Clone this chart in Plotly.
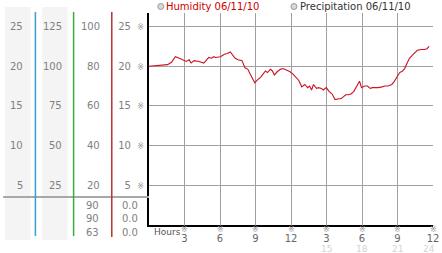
import plotly.graph_objects as go

# ---------------- data ----------------
hours = [0.00, 1.57, 1.90, 2.23, 2.57, 2.81, 3.14, 3.39, 3.56, 3.81, 4.22, 4.63, 4.80, 5.05,
         5.30, 5.46, 5.63, 6.04, 6.37, 6.62, 6.87, 7.12, 7.28, 7.53, 7.86, 8.11, 8.36, 8.52,
         8.69, 8.94, 9.19, 9.43, 9.68, 9.85, 10.01, 10.26, 10.43, 10.59, 10.84, 11.09, 11.34,
         11.67, 11.92, 12.17, 12.50, 12.66, 12.91, 13.16, 13.41, 13.57, 13.74, 13.90, 14.15,
         14.32, 14.57, 14.73, 14.98, 15.23, 15.48, 15.72, 16.06, 16.22, 16.39, 16.63, 16.88,
         17.05, 17.30, 17.54, 17.79, 17.96, 18.21, 18.46, 18.70, 18.87, 19.12, 19.37, 19.70,
         19.94, 20.19, 20.52, 20.69, 20.94, 21.19, 21.43, 21.60, 21.85, 22.01, 22.26, 22.43,
         22.68, 23.01, 23.26, 23.50, 23.67]
humidity = [20.0, 20.2, 20.5, 21.2, 21.0, 20.8, 20.6, 20.8, 20.4, 20.7, 20.6, 20.4, 20.7, 21.1,
            21.0, 21.2, 21.1, 21.2, 21.5, 21.6, 21.8, 21.3, 21.0, 20.8, 20.7, 19.8, 19.6, 19.1,
            18.6, 17.9, 18.3, 18.6, 19.1, 19.4, 19.2, 19.6, 19.4, 18.9, 19.3, 19.6, 19.7,
            19.5, 19.3, 19.0, 18.4, 18.2, 17.4, 17.7, 17.3, 17.5, 17.0, 17.7, 17.2,
            17.3, 17.2, 17.0, 17.3, 16.8, 16.5, 15.8, 15.9, 15.9, 16.1, 16.4, 16.4,
            16.5, 16.8, 17.5, 18.1, 17.3, 17.5, 17.5, 17.2, 17.3, 17.3, 17.3, 17.4,
            17.5, 17.5, 17.7, 18.0, 18.6, 19.2, 19.4, 19.7, 20.5, 21.0, 21.4, 21.6,
            22.0, 22.1, 22.1, 22.2, 22.5]

y_ticks = [25, 20, 15, 10, 5]
col1_labels = ["25", "20", "15", "10", "5"]
col2_labels = ["125", "100", "75", "50", "25"]
col3_labels = ["100", "80", "60", "40", "20"]
col4_labels = ["25", "20", "15", "10", "5"]
col3_rows = ["90", "90", "63"]
col4_rows = ["0.0", "0.0", "0.0"]

x_ticks = [3, 6, 9, 12, 15, 18, 21, 24]
x_labels = ["3", "6", "9", "12", "3", "6", "9", "12"]
x_ticks2 = [15, 18, 21, 24]
x_labels2 = ["15", "18", "21", "24"]

series_names = ["Humidity 06/11/10", "Precipitation 06/11/10"]

# ---------------- layout helpers ----------------
W, H = 442, 253
PX_L, PX_R, PX_T, PX_B = 149, 439, 13, 225
X_RANGE = [0, 24]
Y_RANGE = [0, 26.7]


def fx(px):
    return (px - PX_L) / (PX_R - PX_L)


def fy(py):
    return (PX_B - py) / (PX_B - PX_T)


FONT = "DejaVu Sans, Noto Sans CJK JP"
GREY = "#808080"
GRID = "#a0a0a0"
MARK = "<span style='font-size:8px;color:#9a9a9a'>※</span>"

fig = go.Figure()

fig.add_trace(go.Scatter(x=hours, y=humidity, mode="lines",
                         line=dict(color="#cc1122", width=1.1),
                         hoverinfo="skip", showlegend=False))

shapes = []
# grey column backgrounds
for x0, x1 in [(2, 28), (40, 66)]:
    shapes.append(dict(type="rect", xref="paper", yref="paper", x0=fx(x0), x1=fx(x1),
                       y0=fy(240), y1=fy(7), fillcolor="#f4f4f4", line_width=0, layer="below"))
# horizontal separator
shapes.append(dict(type="line", xref="paper", yref="paper", x0=fx(0), x1=fx(149),
                   y0=fy(197), y1=fy(197), line=dict(color="#a8a8a8", width=2)))
# colored vertical column lines
for px, col, bot in [(33, "#3a9fcf", 236), (72, "#3aaa3a", 236), (111, "#b83030", 237)]:
    shapes.append(dict(type="line", xref="paper", yref="paper", x0=fx(px), x1=fx(px),
                       y0=fy(bot), y1=fy(12), line=dict(color=col, width=1.5)))
# legend circles
for px in [161, 297]:
    shapes.append(dict(type="circle", xref="paper", yref="paper", xsizemode="pixel",
                       ysizemode="pixel", xanchor=fx(px), yanchor=fy(6.5),
                       x0=-3, x1=3, y0=-3, y1=3, fillcolor="#d8d8d8",
                       line=dict(color="#999999", width=1)))

ann = []


def label(text, x, y, xref="paper", yref="y", xanchor="right", color=GREY, size=10):
    ann.append(dict(text=text, x=x, y=y, xref=xref, yref=yref, xanchor=xanchor,
                    yanchor="middle", showarrow=False, borderpad=0,
                    font=dict(family=FONT, size=size, color=color)))


for v, a, b, c in zip(y_ticks, col1_labels, col2_labels, col3_labels):
    label(a, fx(21), v)
    label(b, fx(61), v)
    label(c, fx(100), v)

for i, (a, b) in enumerate(zip(col3_rows, col4_rows)):
    py = 205 + i * 13.5
    label(a, fx(99), fy(py), yref="paper")
    label(b, fx(139), fy(py), yref="paper")

for xv in x_ticks:
    label(MARK, xv, fy(229), xref="x", yref="paper", xanchor="center")
for xv, t in zip(x_ticks2, x_labels2):
    if xv == x_ticks2[-1]:
        label(t, fx(442), fy(249), yref="paper", xanchor="right", color="#d4d4d4", size=9)
    else:
        label(t, xv, fy(249), xref="x", yref="paper", xanchor="center", color="#d4d4d4", size=9)

label("Hours", fx(153), fy(232), yref="paper", xanchor="left", color="#555555", size=9)
label(series_names[0], fx(165), fy(6.5), yref="paper", xanchor="left", color="#cc0000")
label(series_names[1], fx(302), fy(6.5), yref="paper", xanchor="left", color="#333333")

fig.update_layout(
    width=W, height=H,
    margin=dict(l=PX_L, r=W - PX_R, t=PX_T, b=H - PX_B),
    paper_bgcolor="white", plot_bgcolor="white",
    showlegend=False,
    shapes=shapes, annotations=ann,
    xaxis=dict(range=X_RANGE, tickvals=x_ticks, ticktext=x_labels, showgrid=True,
               gridcolor=GRID, gridwidth=1,
               zeroline=False, showline=True, ticklabeloverflow="allow",
               linecolor="black", linewidth=2, ticks="", ticklabelstandoff=3,
               tickfont=dict(family=FONT, size=10, color="#666666")),
    yaxis=dict(range=Y_RANGE, tickvals=y_ticks,
               ticktext=[f"{t}  {MARK}" for t in col4_labels], showgrid=True,
               gridcolor=GRID, gridwidth=1,
               zeroline=False, showline=True,
               linecolor="black", linewidth=2, ticks="", ticklabelstandoff=1,
               tickfont=dict(family=FONT, size=10, color=GREY)),
)

fig.write_html("out.html")
